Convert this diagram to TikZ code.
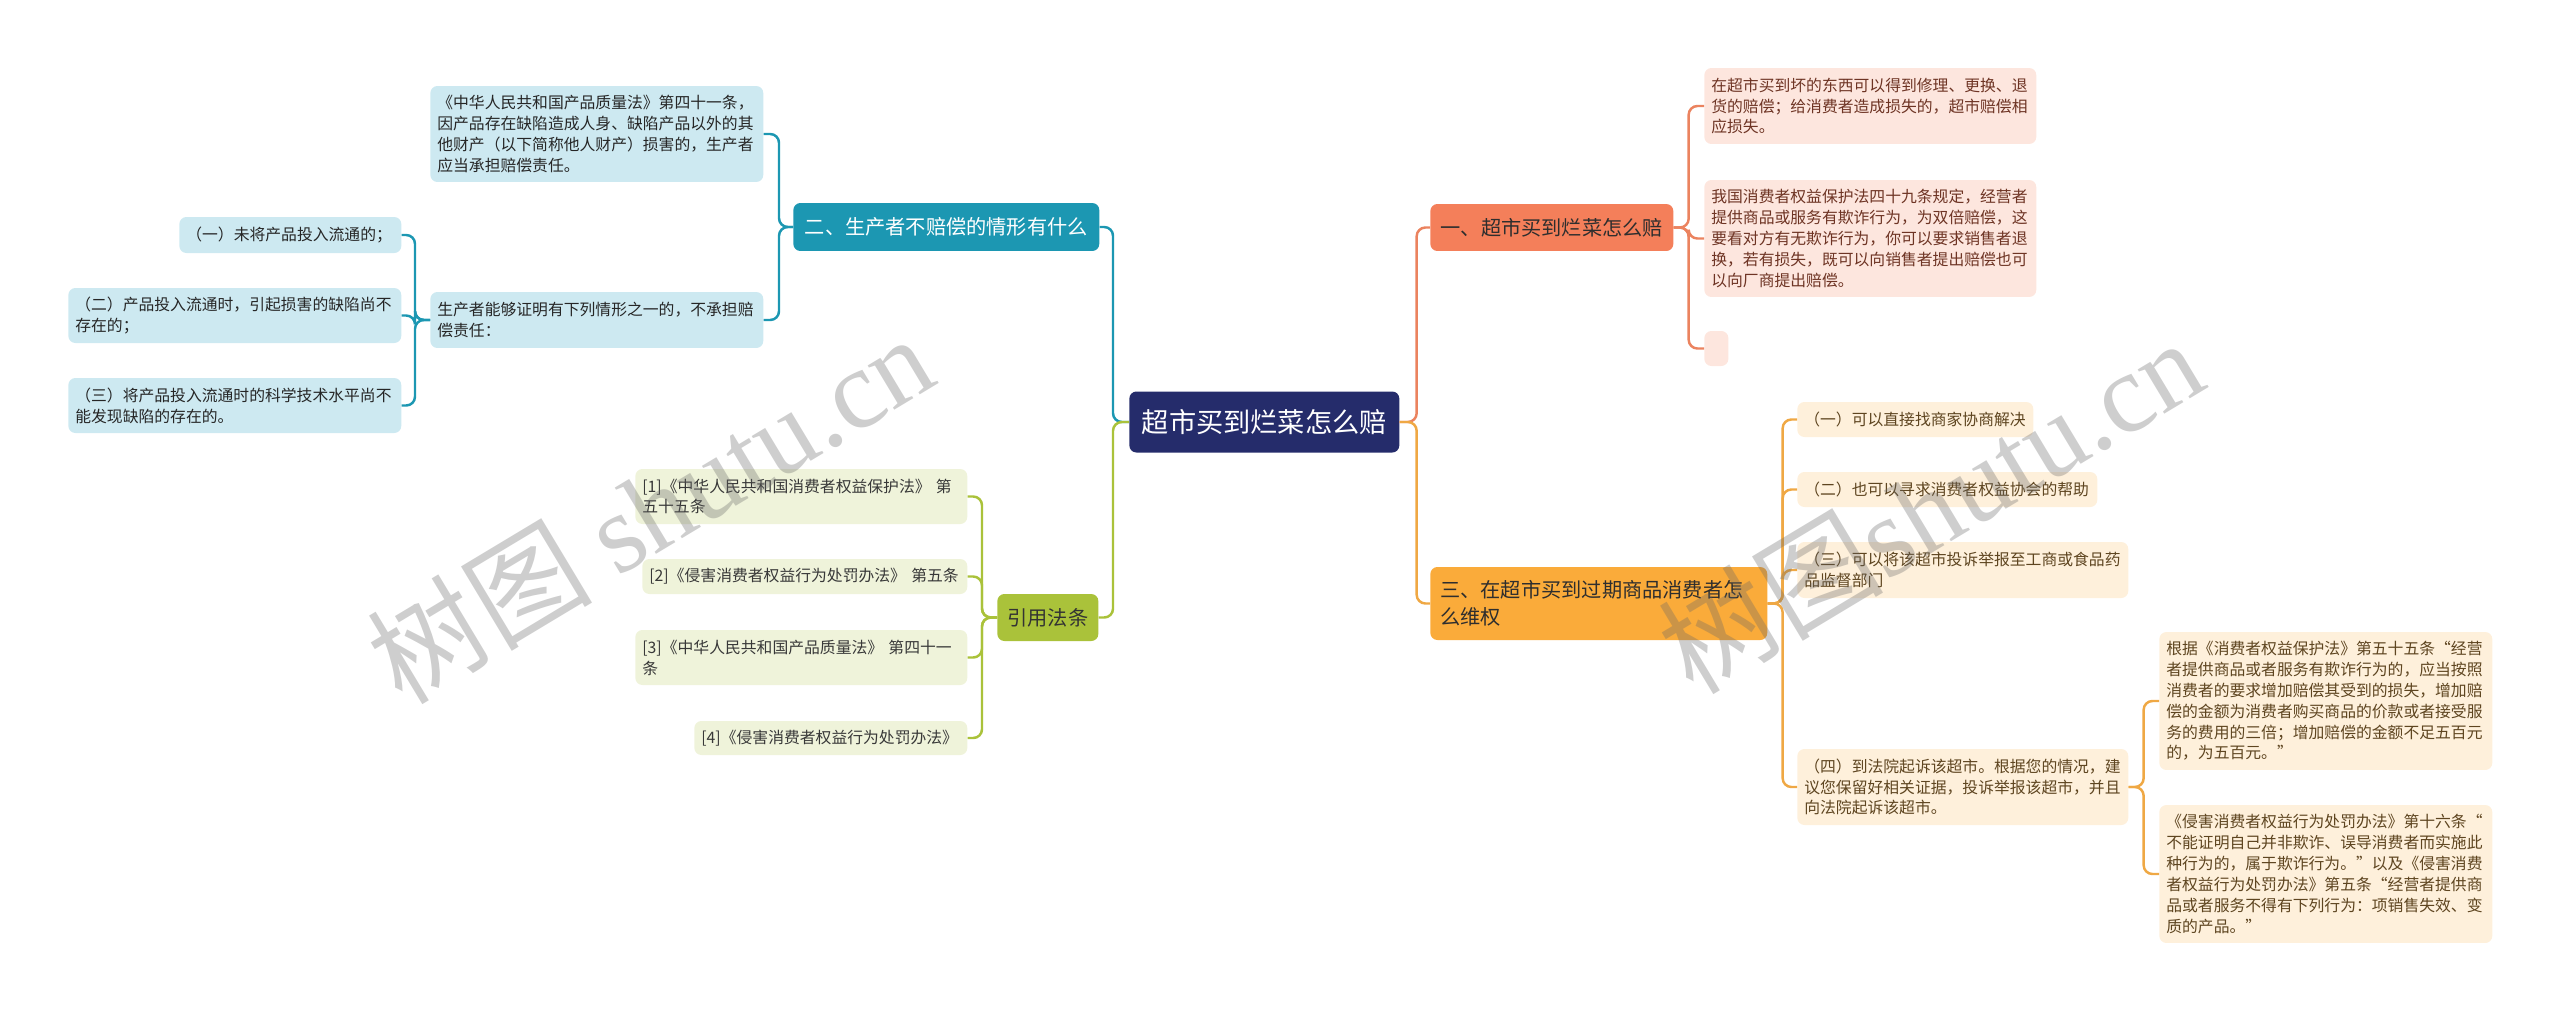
\documentclass[tikz,border=0pt]{standalone}
\usepackage{fontspec}
\setmainfont{Noto Sans CJK SC}
\newfontfamily\wmfont{Liberation Serif}
\usetikzlibrary{calc,positioning}

\definecolor{rootblue}{HTML}{252C6B}
\definecolor{tealbr}{HTML}{1C97B2}
\definecolor{tealleaf}{HTML}{CDE9F1}
\definecolor{greenbr}{HTML}{AAC23A}
\definecolor{greenleaf}{HTML}{EFF3DA}
\definecolor{salmonbr}{HTML}{F47F5A}
\definecolor{salmonline}{HTML}{EB835F}
\definecolor{salmonleaf}{HTML}{FDE6DE}
\definecolor{orangebr}{HTML}{FAAB3A}
\definecolor{orangeline}{HTML}{EFA844}
\definecolor{orangeleaf}{HTML}{FEF0DB}

\begin{document}
\begin{tikzpicture}[x=0.02cm, y=-0.02cm,
  box/.style={rounded corners=4pt, inner xsep=0.14cm, inner ysep=0pt, anchor=west, align=left, font=\fontsize{9}{11.85}\selectfont},
  branch/.style={rounded corners=4pt, inner xsep=0.2cm, inner ysep=0pt, anchor=west, font=\fontsize{11.5}{15.2}\selectfont},
  tealbox/.style={box, fill=tealleaf, text=black!85},
  greenbox/.style={box, fill=greenleaf, text=black!78},
  salmonbox/.style={box, fill=salmonleaf, text={rgb,255:red,110;green,52;blue,36}},
  orangebox/.style={box, fill=orangeleaf, text={rgb,255:red,94;green,69;blue,32}},
  link/.style={line width=1.4pt, rounded corners=5pt},
  wm/.style={text=black!60, text opacity=0.32, font=\fontsize{64}{64}\selectfont}]
\useasboundingbox (0,0) rectangle (2560,1011);

% centre
\node[fill=rootblue, text=white, rounded corners=4pt, minimum width=5.4cm, minimum height=1.22cm, anchor=west, font=\fontsize{15.5}{18}\selectfont] (root) at (1129,422) {超市买到烂菜怎么赔};

% left, part two
\node[branch, fill=tealbr, text=white, minimum width=6.12cm, minimum height=0.96cm] (two) at (793,227) {二、生产者不赔偿的情形有什么};
\node[tealbox, text width=6.38cm, minimum height=1.92cm] (law) at (430,134) {《中华人民共和国产品质量法》第四十一条，\\因产品存在缺陷造成人身、缺陷产品以外的其\\他财产（以下简称他人财产）损害的，生产者\\应当承担赔偿责任。};
\node[tealbox, text width=6.38cm, minimum height=1.12cm] (proof) at (430,320) {生产者能够证明有下列情形之一的，不承担赔\\偿责任：};
\node[tealbox, text width=4.16cm, minimum height=0.72cm] (c1) at (179,235) {（一）未将产品投入流通的；};
\node[tealbox, text width=6.38cm, minimum height=1.1cm] (c2) at (68,315.5) {（二）产品投入流通时，引起损害的缺陷尚不\\存在的；};
\node[tealbox, text width=6.38cm, minimum height=1.1cm] (c3) at (68,405.5) {（三）将产品投入流通时的科学技术水平尚不\\能发现缺陷的存在的。};

% left, cited laws
\node[branch, fill=greenbr, text=black!80, minimum width=2.02cm, minimum height=0.94cm] (cite) at (997,617.5) {引用法条};
\node[greenbox, text width=6.36cm, minimum height=1.1cm] (r1) at (635,496.5) {[1]《中华人民共和国消费者权益保护法》~第\\五十五条};
\node[greenbox, text width=6.22cm, minimum height=0.7cm] (r2) at (642,576.5) {[2]《侵害消费者权益行为处罚办法》~第五条};
\node[greenbox, text width=6.36cm, minimum height=1.1cm] (r3) at (635,657.5) {[3]《中华人民共和国产品质量法》~第四十一\\条};
\node[greenbox, text width=5.18cm, minimum height=0.68cm] (r4) at (694,738) {[4]《侵害消费者权益行为处罚办法》};

% right, part one
\node[branch, fill=salmonbr, text=black!82, minimum width=4.86cm, minimum height=0.94cm] (one) at (1430,227.5) {一、超市买到烂菜怎么赔};
\node[salmonbox, text width=6.36cm, minimum height=1.52cm] (s1) at (1704,106) {在超市买到坏的东西可以得到修理、更换、退\\货的赔偿；给消费者造成损失的，超市赔偿相\\应损失。};
\node[salmonbox, text width=6.36cm, minimum height=2.34cm] (s2) at (1704,238.5) {我国消费者权益保护法四十九条规定，经营者\\提供商品或服务有欺诈行为，为双倍赔偿，这\\要看对方有无欺诈行为，你可以要求销售者退\\换，若有损失，既可以向销售者提出赔偿也可\\以向厂商提出赔偿。};
\node[salmonbox, inner xsep=0pt, minimum width=0.48cm, minimum height=0.7cm] (s3) at (1704,348.5) {};

% right, part three
\node[branch, fill=orangebr, text=black!82, align=left, text width=6.34cm, minimum height=1.46cm] (three) at (1430,603.5) {三、在超市买到过期商品消费者怎\\么维权};
\node[orangebox, text width=4.44cm, minimum height=0.7cm] (o1) at (1797,419.5) {（一）可以直接找商家协商解决};
\node[orangebox, text width=5.72cm, minimum height=0.7cm] (o2) at (1797,489.5) {（二）也可以寻求消费者权益协会的帮助};
\node[orangebox, text width=6.34cm, minimum height=1.12cm] (o3) at (1797,570) {（三）可以将该超市投诉举报至工商或食品药\\品监督部门};
\node[orangebox, text width=6.34cm, minimum height=1.52cm] (o4) at (1797,787) {（四）到法院起诉该超市。根据您的情况，建\\议您保留好相关证据，投诉举报该超市，并且\\向法院起诉该超市。};
\node[orangebox, text width=6.38cm, minimum height=2.76cm] (o4a) at (2159,701) {根据《消费者权益保护法》第五十五条“经营\\者提供商品或者服务有欺诈行为的，应当按照\\消费者的要求增加赔偿其受到的损失，增加赔\\偿的金额为消费者购买商品的价款或者接受服\\务的费用的三倍；增加赔偿的金额不足五百元\\的，为五百元。”};
\node[orangebox, text width=6.38cm, minimum height=2.76cm] (o4b) at (2159,874) {《侵害消费者权益行为处罚办法》第十六条“\\不能证明自己并非欺诈、误导消费者而实施此\\种行为的，属于欺诈行为。”以及《侵害消费\\者权益行为处罚办法》第五条“经营者提供商\\品或者服务不得有下列行为：项销售失效、变\\质的产品。”};

% links
\foreach \b/\c in {two/tealbr, cite/greenbr}
  \draw[link, \c] (root.west) -- ++(-16,0) |- (\b.east);
\foreach \b/\c in {one/salmonline, three/orangeline}
  \draw[link, \c] (root.east) -- ++(17,0) |- (\b.west);
\foreach \c in {law, proof}
  \draw[link, tealbr] (two.west) -- ++(-14,0) |- (\c.east);
\foreach \c in {c1, c2, c3}
  \draw[link, tealbr] (proof.west) -- ++(-15,0) |- (\c.east);
\foreach \c in {r1, r2, r3, r4}
  \draw[link, greenbr] (cite.west) -- ++(-15,0) |- (\c.east);
\foreach \c in {s1, s2, s3}
  \draw[link, salmonline] (one.east) -- ++(15,0) |- (\c.west);
\foreach \c in {o1, o2, o3, o4}
  \draw[link, orangeline] (three.east) -- ++(15,0) |- (\c.west);
\foreach \c in {o4a, o4b}
  \draw[link, orangeline] (o4.east) -- ++(15,0) |- (\c.west);

% watermark
\node[wm, rotate=31] (wm1) at (650,508) {树图 {\wmfont shutu.cn}};
\node[wm, rotate=31] (wm2) at (1930,505) {树图{\wmfont shutu.cn}};
\end{tikzpicture}
\end{document}
